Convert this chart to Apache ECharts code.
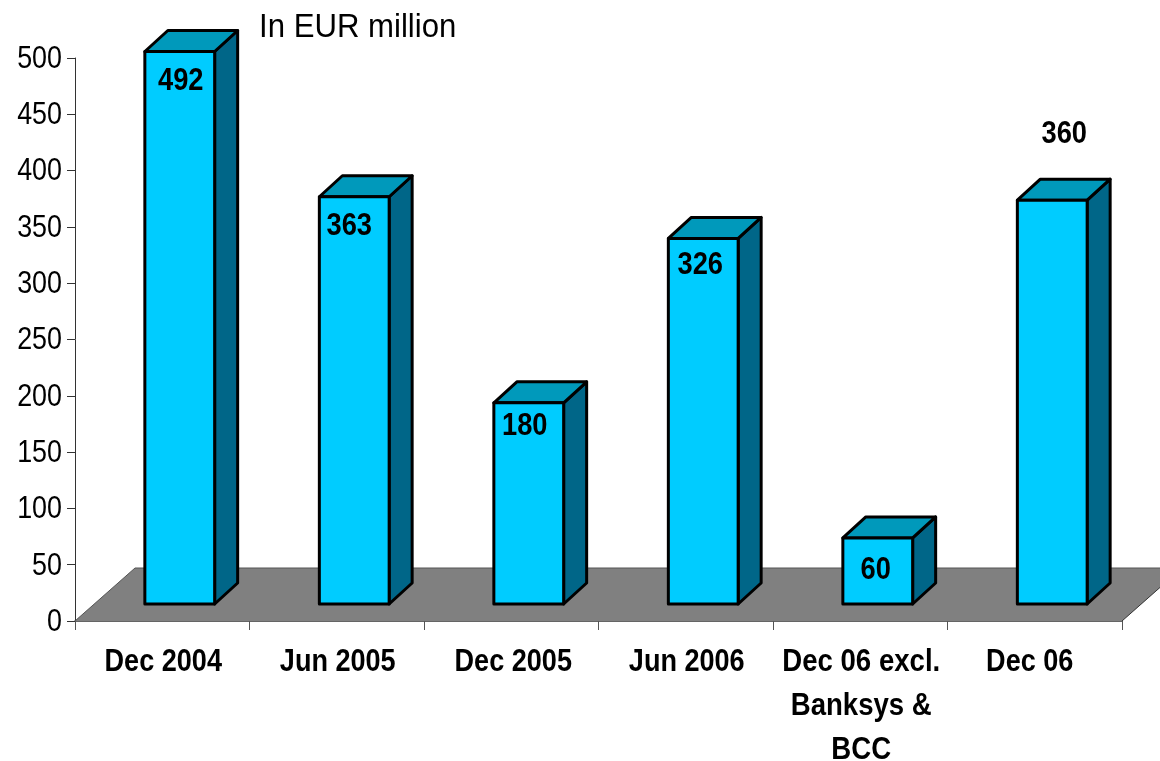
<!DOCTYPE html>
<html>
<head>
<meta charset="utf-8">
<style>html,body{margin:0;padding:0;background:#fff}#c{width:1160px;height:761px}</style>
<script src="https://cdn.jsdelivr.net/npm/echarts@6/dist/echarts.min.js"></script>
</head>
<body>
<div id="c"></div>
<script>
const categories = ['Dec 2004', 'Jun 2005', 'Dec 2005', 'Jun 2006', 'Dec 06 excl.\nBanksys &\nBCC', 'Dec 06'];
const values = [492, 363, 180, 326, 60, 360];
const yTicks = { min: 0, max: 500, interval: 50 };
const unitLabel = 'In EUR million';

// Styling / 3D projection settings
const FONT = '"Liberation Sans",Arial,sans-serif';
const labelNudgeX = [1, -5, -4, -3, -2, 12];
const labelNudgeY = [30, 30, 24, 27, 33, -66];
const categoryNudgeX = [1, 1, 2, 1, 1, -5];
const liftY = 17, shiftX = 17.5, depthX = 23, depthY = 21, topInset = 1.5;

const chart = echarts.init(document.getElementById('c'), null, { renderer: 'canvas' });

function floorItem(params, api) {
  const a = api.coord([0, 0]);
  const w = api.size([1, 0])[0];
  const x0 = a[0] - w / 2, x1 = x0 + w * categories.length, y = a[1];
  return {
    type: 'group',
    children: [
      { type: 'polygon', shape: { points: [[x0, y], [x0 + 60, y - 53], [x1 + 60, y - 53], [x1, y]] },
        style: { fill: '#808080', stroke: 'none' } },
      { type: 'polyline', shape: { points: [[x0, y], [x0 + 60, y - 53], [x1 + 60, y - 53]] },
        style: { fill: 'none', stroke: '#555555', lineWidth: 1 } },
      { type: 'line', shape: { x1: x1, y1: y, x2: x1 + 60, y2: y - 53 },
        style: { stroke: '#333333', lineWidth: 1 } }
    ]
  };
}

function barItem(params, api) {
  const i = api.value(0);
  const top = api.coord([i, api.value(1)]);
  const base = api.coord([i, 0]);
  const w = api.size([1, 0])[0] * 0.4;
  const l = top[0] + shiftX - w / 2, r = l + w;
  const t = top[1] - liftY + topInset, b = base[1] - liftY;
  const edge = { stroke: '#000000', lineWidth: 3, lineJoin: 'round' };
  return {
    type: 'group',
    children: [
      { type: 'polygon', shape: { points: [[r, t], [r + depthX, t - depthY], [r + depthX, b - depthY], [r, b]] },
        style: Object.assign({ fill: '#006688' }, edge) },
      { type: 'polygon', shape: { points: [[l, t], [l + depthX, t - depthY], [r + depthX, t - depthY], [r, t]] },
        style: Object.assign({ fill: '#0099BB' }, edge) },
      { type: 'rect', shape: { x: l, y: t, width: w, height: b - t },
        style: Object.assign({ fill: '#00CCFF' }, edge) },
      { type: 'text',
        x: (l + r) / 2 + labelNudgeX[i], y: t + labelNudgeY[i], scaleX: 0.88,
        style: { x: 0, y: 0, text: String(api.value(1)),
          fill: '#000000', font: 'bold 31px ' + FONT, align: 'center', verticalAlign: 'middle' } }
    ]
  };
}

chart.setOption({
  animation: false,
  backgroundColor: '#ffffff',
  title: {
    text: unitLabel, left: 254, top: 6,
    textStyle: { fontFamily: FONT, fontSize: 34, fontWeight: 'normal', color: '#000000' }
  },
  grid: { left: 75, right: 38, top: 58, bottom: 140, outerBoundsMode: 'none' },
  xAxis: {
    type: 'category',
    data: categories,
    boundaryGap: true,
    axisLine: { lineStyle: { color: '#333333', width: 1.5 } },
    axisTick: { show: true, alignWithLabel: false, length: 9, lineStyle: { color: '#555555', width: 1 } },
    axisLabel: { interval: 0, margin: 19, color: '#000000', fontFamily: FONT, fontSize: 31, fontWeight: 'bold', lineHeight: 44, verticalAlign: 'top' }
  },
  yAxis: {
    type: 'value',
    min: yTicks.min, max: yTicks.max, interval: yTicks.interval,
    splitLine: { show: false },
    axisLine: { show: true, lineStyle: { color: '#333333', width: 1 } },
    axisTick: { show: true, length: 8, lineStyle: { color: '#333333', width: 1 } },
    axisLabel: { margin: 13, color: '#000000', fontFamily: FONT, fontSize: 32 }
  },
  series: [
    { type: 'custom', name: 'floor', z: 1, clip: false, silent: true, renderItem: floorItem,
      encode: { x: 0, y: 1 }, data: [[0, 0]] },
    { type: 'custom', name: 'bars', z: 3, clip: false, renderItem: barItem,
      encode: { x: 0, y: 1 }, data: values.map((v, i) => [i, v]) }
  ]
});

// The reference uses a condensed face: squeeze the real axis/title text horizontally around its anchor.
function squeezeText() {
  const zr = chart.getZr();
  const visit = (el) => {
    if (el.isGroup) { el.eachChild(visit); return; }
    if (el.type !== 'text' || !el.style || el.style.text == null) return;
    const s = String(el.style.text);
    const c = categories.indexOf(s);
    if (s === unitLabel) {
      el.scaleX = 0.916;
    } else if (c >= 0) {
      el.scaleX = s.indexOf('\n') >= 0 ? 0.89 : 0.873;
      el.x += categoryNudgeX[c];
    } else if (/^\d+$/.test(s) && el.x < 75 && el.x > 0) {
      el.scaleX = 0.84;
      el.y += 1;
    } else {
      return;
    }
    el.markRedraw();
  };
  zr.storage.getRoots().forEach(visit);
  zr.refreshImmediately();
}
squeezeText();
</script>
</body>
</html>
